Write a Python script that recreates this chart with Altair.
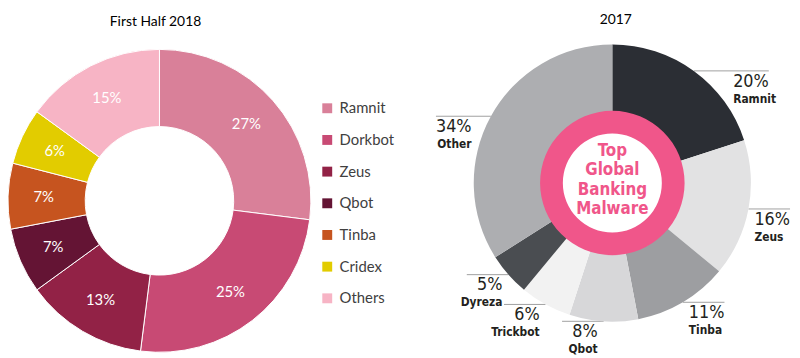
import math
import altair as alt
import pandas as pd

# ---------------- data ----------------
h1_title = "First Half 2018"
h1_names = ["Ramnit", "Dorkbot", "Zeus", "Qbot", "Tinba", "Cridex", "Others"]
h1_values = [27, 25, 13, 7, 7, 6, 15]

y17_title = "2017"
y17_names = ["Ramnit", "Zeus", "Tinba", "Qbot", "Trickbot", "Dyreza", "Other"]
y17_values = [20, 16, 11, 8, 6, 5, 34]
center_lines = ["Top", "Global", "Banking", "Malware"]

# ---------------- style / layout ----------------
h1_colors = ["#D98099", "#C84A74", "#922246", "#641434", "#C6541F", "#E2CC00", "#F7B4C5"]
y17_colors = ["#2B2E34", "#E2E2E3", "#9D9EA1", "#D7D7D9", "#F2F2F2", "#4A4D51", "#ADAEB1"]
PINK = "#F0568A"
TXT = "#231F20"
COND = "DejaVu Sans Condensed, Roboto, sans-serif"

W, H = 792, 350
L_CX, L_CY, L_RO, L_RI = 153, 193, 153, 75
R_CX, R_CY, R_RO, R_RI = 610.5, 175, 140, 72
RING_R, HOLE_R = 73, 50
GAP, LINE_EXT = 6, 36
LINE_H = 19.5

# ---------------- tables ----------------
left = pd.DataFrame({"name": h1_names, "value": h1_values, "order": range(len(h1_names))})
left["label"] = left["value"].astype(str) + "%"

right = pd.DataFrame({"name": y17_names, "value": y17_values, "order": range(len(y17_names))})
right["label"] = right["value"].astype(str) + "%"
total = right["value"].sum()
cum = right["value"].cumsum()
mid = (cum - right["value"] / 2) / total * 2 * math.pi
right["ax"] = R_CX + R_RO * mid.apply(math.sin)
right["ay"] = R_CY - R_RO * mid.apply(math.cos)
right["side"] = mid.apply(lambda a: 1 if math.sin(a) > 0 else -1)


def text_edge(row):
    top, bot = row["ay"] + 5, row["ay"] + 35
    yn = min(max(R_CY, top), bot)
    dy = yn - R_CY
    ex = math.sqrt(R_RO ** 2 - dy ** 2) if abs(dy) < R_RO else 0
    ex = max(ex, abs(row["ax"] - R_CX))
    return R_CX + row["side"] * (ex + GAP)


right["tx"] = right.apply(text_edge, axis=1)
right["lx"] = right["tx"] + right["side"] * LINE_EXT
right["py"] = right["ay"] + 16
right["ny"] = right["ay"] + 32

center = pd.DataFrame({"t": center_lines, "i": range(len(center_lines))})
center["y"] = R_CY - 3 + (center["i"] - (len(center_lines) - 1) / 2) * LINE_H

# ---------------- left donut ----------------
theta = alt.Theta("value:Q", stack=True)
left_arcs = alt.Chart(left).mark_arc(
    outerRadius=L_RO, innerRadius=L_RI, stroke="white", strokeWidth=1
).encode(
    theta=theta,
    order=alt.Order("order:Q"),
    color=alt.Color(
        "name:N",
        sort=h1_names,
        scale=alt.Scale(domain=h1_names, range=h1_colors),
        legend=alt.Legend(
            title=None, orient="none", direction="vertical", legendX=315, legendY=92,
            symbolType="square", symbolSize=100, symbolStrokeWidth=0,
            labelFont="Lato", labelFontSize=15, labelColor="#404040",
            rowPadding=16, labelOffset=5, padding=0,
        ),
    ),
    x=alt.value(L_CX), y=alt.value(L_CY),
)
left_text = alt.Chart(left).mark_text(
    radius=117, font="Lato", fontSize=15, color="white"
).encode(
    theta=theta, order=alt.Order("order:Q"), text="label:N",
    x=alt.value(L_CX), y=alt.value(L_CY),
)

# ---------------- right donut ----------------
right_arcs = alt.Chart(right).mark_arc(outerRadius=R_RO, innerRadius=R_RI).encode(
    theta=theta,
    order=alt.Order("order:Q"),
    color=alt.Color("name:N", sort=y17_names,
                    scale=alt.Scale(domain=y17_names, range=y17_colors), legend=None),
    x=alt.value(R_CX), y=alt.value(R_CY),
)
one = pd.DataFrame({"k": [0]})
ring = alt.Chart(one).mark_arc(
    theta=0, theta2=2 * math.pi, innerRadius=HOLE_R, outerRadius=RING_R, color=PINK
).encode(x=alt.value(R_CX), y=alt.value(R_CY))
center_txt = alt.Chart(center).mark_text(
    font=COND, fontWeight="bold", fontSize=17, color=PINK, align="center", baseline="middle",
).encode(x=alt.value(R_CX), y=alt.Y("y:Q", scale=None, axis=None), text="t:N")

xs = lambda f: alt.X(f, scale=None, axis=None)
ys = lambda f: alt.Y(f, scale=None, axis=None)
lines = alt.Chart(right).mark_rule(color="#A0A0A0", strokeWidth=1).encode(
    x=xs("ax:Q"), x2="lx:Q", y=ys("ay:Q"))


def side_text(side, align):
    base = alt.Chart(right).transform_filter(alt.datum.side == side)
    pct = base.mark_text(font=COND, fontSize=18, color=TXT,
                         align=align, baseline="alphabetic").encode(
        x=xs("tx:Q"), y=ys("py:Q"), text="label:N")
    nm = base.mark_text(font=COND, fontWeight="bold", fontSize=12,
                        color=TXT, align=align, baseline="alphabetic").encode(
        x=xs("tx:Q"), y=ys("ny:Q"), text="name:N")
    return pct + nm


# ---------------- titles ----------------
titles = alt.Chart(pd.DataFrame({"t": [h1_title]})).mark_text(
    font="Lato", fontSize=14, color="black", baseline="middle").encode(
    x=alt.value(149), y=alt.value(12), text="t:N")
titles2 = alt.Chart(pd.DataFrame({"t": [y17_title]})).mark_text(
    font="Lato", fontSize=14, color="black", baseline="middle").encode(
    x=alt.value(614), y=alt.value(10), text="t:N")

chart = alt.layer(
    left_arcs, left_text, lines, right_arcs, ring, center_txt,
    side_text(1, "left"), side_text(-1, "right"), titles, titles2,
).resolve_scale(color="independent").properties(
    width=W, height=H, padding=0, autosize=alt.AutoSizeParams(type="none")
).configure_view(stroke=None)

chart.save("out.html", embed_options={"renderer": "svg", "actions": False})
